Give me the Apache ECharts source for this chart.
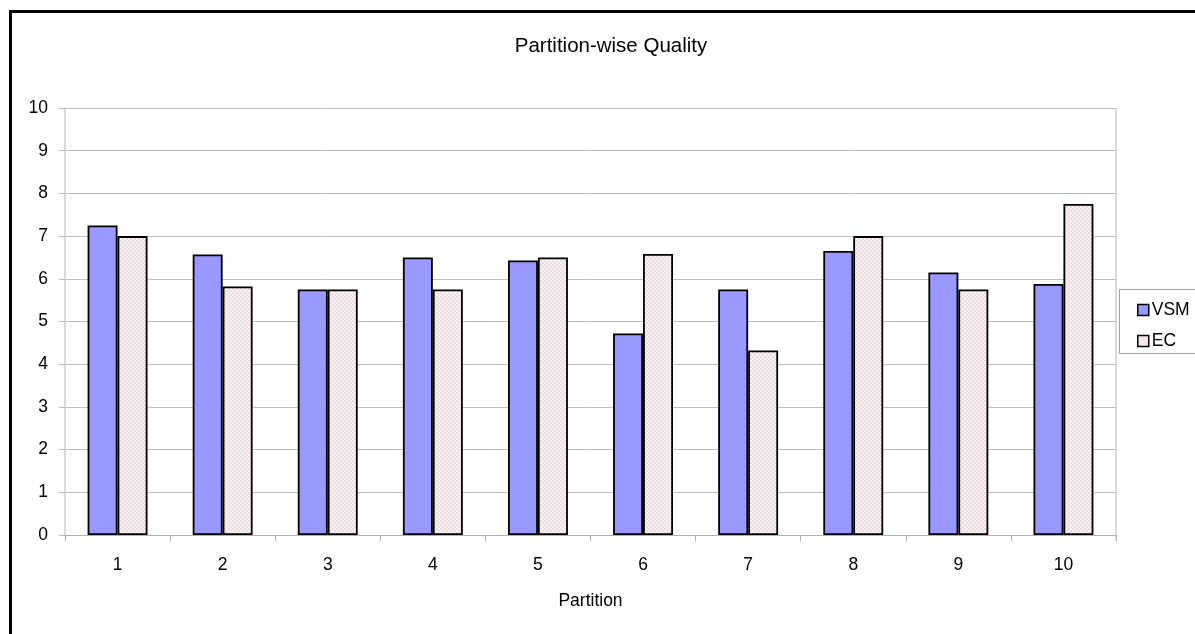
<!DOCTYPE html>
<html>
<head>
<meta charset="utf-8">
<script src="https://cdn.jsdelivr.net/npm/echarts@6/dist/echarts.min.js"></script>
<style>
  html, body { margin: 0; padding: 0; background: #fff; }
  #chart { width: 1195px; height: 634px; }
</style>
</head>
<body>
<div id="chart"></div>
<script>
// Partition-wise quality scores for the two methods
const partitions = ['1', '2', '3', '4', '5', '6', '7', '8', '9', '10'];
const vsmValues = [7.25, 6.57, 5.75, 6.5, 6.43, 4.72, 5.75, 6.65, 6.15, 5.88];
const ecValues = [7.0, 5.82, 5.75, 5.75, 6.5, 6.58, 4.32, 7.0, 5.75, 7.75];
const yTicks = [0, 1, 2, 3, 4, 5, 6, 7, 8, 9, 10];

// Small pink checker for the EC bars (2px cells)
function makePattern() {
  const c = document.createElement('canvas');
  c.width = 4; c.height = 4;
  const ctx = c.getContext('2d');
  ctx.fillStyle = '#faf3f6';
  ctx.fillRect(0, 0, 4, 4);
  ctx.fillStyle = '#eddbe2';
  ctx.fillRect(0, 0, 2, 2);
  ctx.fillRect(2, 2, 2, 2);
  return c;
}
const ecFill = { image: makePattern(), repeat: 'repeat' };

const chart = echarts.init(document.getElementById('chart'), null, { renderer: 'canvas' });
const font = 'Liberation Sans, Arial, sans-serif';

chart.setOption({
  animation: false,
  backgroundColor: '#fff',
  textStyle: { fontFamily: font },
  title: {
    text: 'Partition-wise Quality',
    left: 606, top: 31, textAlign: 'center',
    textStyle: { fontFamily: font, fontSize: 20.5, fontWeight: 'normal', color: '#000' }
  },
  grid: { left: 65, right: 79, top: 108, bottom: 99, containLabel: false },
  legend: {
    orient: 'vertical',
    left: 1132, top: 296,
    itemWidth: 11, itemHeight: 11, itemGap: 13,
    textStyle: { fontFamily: font, fontSize: 17.5, color: '#000', padding: [0, 0, 0, -2] },
    data: [
      { name: 'VSM', icon: 'rect', itemStyle: { color: '#9999ff', borderColor: '#000', borderWidth: 1.5 } },
      { name: 'EC', icon: 'rect', itemStyle: { color: '#f3e6eb', borderColor: '#000', borderWidth: 1.5 } }
    ]
  },
  xAxis: {
    type: 'category',
    data: partitions,
    name: 'Partition',
    nameLocation: 'middle',
    nameGap: 57,
    nameTextStyle: { fontFamily: font, fontSize: 17.5, color: '#000' },
    axisLine: { lineStyle: { color: '#b0b0b0', width: 1 } },
    axisTick: { show: true, length: 6, lineStyle: { color: '#b0b0b0' } },
    axisLabel: { fontFamily: font, fontSize: 17.5, color: '#000', margin: 21 },
    splitLine: { show: false }
  },
  yAxis: {
    type: 'value',
    min: 0, max: 10, interval: 1,
    axisLine: { show: true, lineStyle: { color: '#dcdcdc', width: 2 } },
    axisTick: { show: true, length: 6, lineStyle: { color: '#b8b8b8' } },
    axisLabel: {
      fontFamily: font, fontSize: 17.5, color: '#000', margin: 17,
      formatter: v => (yTicks.includes(v) ? String(v) : '')
    },
    splitLine: { show: true, lineStyle: { color: '#c0c0c0', width: 1 } }
  },
  graphic: [
    {
      type: 'rect',
      shape: { x: 10.5, y: 11.5, width: 1300, height: 800 },
      style: { fill: 'none', stroke: '#000', lineWidth: 3 },
      silent: true, z: 100
    },
    {
      type: 'line',
      shape: { x1: 1116, y1: 108, x2: 1116, y2: 541 },
      style: { stroke: '#dcdcdc', lineWidth: 2 },
      silent: true
    },
    {
      type: 'rect',
      shape: { x: 1119.5, y: 289.5, width: 80, height: 64 },
      style: { fill: 'none', stroke: '#a0a0a0', lineWidth: 1 },
      silent: true
    }
  ],
  series: [
    {
      name: 'VSM', type: 'bar', data: vsmValues,
      barGap: '0%', barCategoryGap: '43%',
      itemStyle: { color: '#9999ff', borderColor: '#000', borderWidth: 1.8 }
    },
    {
      name: 'EC', type: 'bar', data: ecValues,
      barGap: '0%', barCategoryGap: '43%',
      itemStyle: { color: ecFill, borderColor: '#000', borderWidth: 1.8 }
    }
  ]
});
</script>
</body>
</html>
